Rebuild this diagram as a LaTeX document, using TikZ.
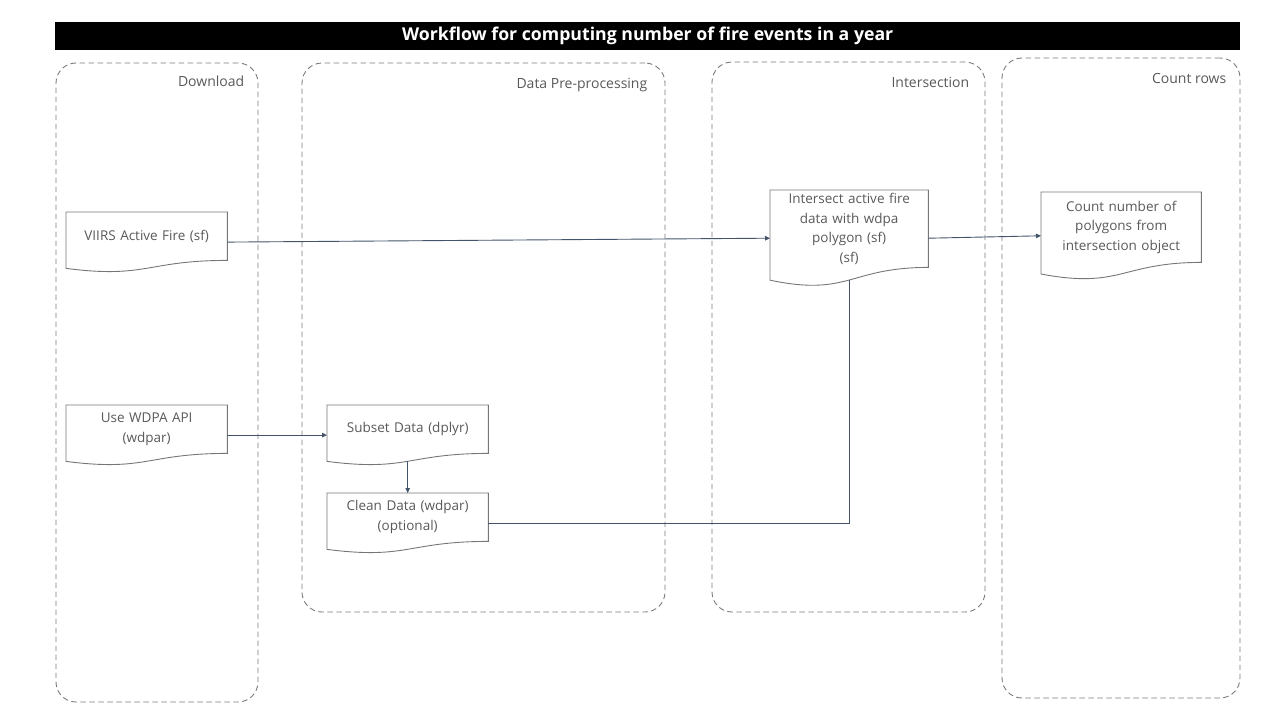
\documentclass[tikz,border=0pt]{standalone}
\usepackage{fontspec}
\setmainfont{Open Sans}
\usetikzlibrary{calc,arrows.meta,positioning}
\definecolor{lanegray}{HTML}{7A7A7A}
\definecolor{boxgray}{HTML}{767676}
\definecolor{txtgray}{HTML}{595959}
\definecolor{linkblue}{HTML}{44546A}
\begin{document}
\begin{tikzpicture}[x=1pt,y=-1pt,
  lane/.style={draw=lanegray, dash pattern=on 5.5pt off 3.5pt, rounded corners=20pt, line width=0.9pt, inner sep=0pt},
  lanelabel/.style={anchor=base east, text=txtgray, inner sep=0pt, font=\fontsize{14}{17}\selectfont},
  docbox/.style={anchor=north west, minimum width=161pt, inner sep=0pt, text width=150pt, align=center, text=txtgray, font=\fontsize{13.5}{19.5}\selectfont},
  docline/.style={draw=boxgray, line width=0.9pt},
  link/.style={draw=linkblue, line width=0.9pt},
  arr/.style={link, -{Triangle[length=5pt,width=4.5pt]}}]

  \useasboundingbox (0,0) rectangle (1280,720);

  %% title bar
  \node[fill=black, anchor=north west, minimum width=1185pt, minimum height=28pt, inner sep=0pt, text=white, font=\fontsize{17.7}{20}\selectfont\bfseries] (title) at (55,22) {Workflow for computing number of fire events in a year};

  %% lanes
  \node[lane, minimum width=202pt, minimum height=639pt] (dl) at (157,382.5) {};
  \node[lane, minimum width=363pt, minimum height=549pt] (pre) at (483.5,337.5) {};
  \node[lane, minimum width=273pt, minimum height=550pt] (isect) at (848.5,337) {};
  \node[lane, minimum width=238pt, minimum height=640pt] (cnt) at (1121,378) {};

  \node[lanelabel] (dllab) at ([xshift=-14pt,yshift=-23.5pt]dl.north east) {Download};
  \node[lanelabel] (prelab) at ([xshift=-18pt,yshift=-26pt]pre.north east) {Data Pre-processing};
  \node[lanelabel] (isectlab) at ([xshift=-16pt,yshift=-26pt]isect.north east) {Intersection};
  \node[lanelabel] (cntlab) at ([xshift=-14pt,yshift=-26pt]cnt.north east) {Count rows};

  %% steps
  \node[docbox, minimum height=48pt] (fire) at (66,212) {VIIRS Active Fire (sf)};
  \node[docbox, minimum height=48pt] (wdpa) at (66,405) {Use WDPA API\\(wdpar)};
  \node[docbox, minimum height=48pt] (subset) at (327,405) {Subset Data (dplyr)};
  \node[docbox, minimum height=48pt] (clean) at (327,493) {Clean Data (wdpar)\\(optional)};
  \node[docbox, minimum width=158pt, minimum height=77pt] (inter) at (770,190) {Intersect active fire\\data with wdpa\\polygon (sf)\\(sf)};
  \node[docbox, minimum width=160pt, minimum height=70pt] (count) at (1041,192) {Count number of\\polygons from\\intersection object};

  %% document outline, wavy bottom
  \foreach \n in {fire,wdpa,subset,clean,inter,count}
    \draw[docline] (\n.south east) -- (\n.north east) -- (\n.north west)
      -- ($(\n.north west)!1.165!(\n.south west)$)
      .. controls ($(\n.north)!1.38!(\n.south)$) and (\n.south) .. (\n.south east) -- cycle;

  %% links
  \draw[arr] ([yshift=-5.9pt]fire.east) -- ([yshift=-9.5pt]inter.west); % fire->inter
  \draw[arr] ([yshift=-9.5pt]inter.east) -- ([yshift=-8.6pt]count.west); % inter->count
  \draw[arr] ([yshift=-5.9pt]wdpa.east) -- ([yshift=-5.9pt]subset.west); % wdpa->subset
  \draw[arr] ([yshift=-7.8pt]subset.south) -- (clean.north); % subset->clean
  \draw[link] ([yshift=-5.9pt]clean.east) -| ([yshift=-12.6pt]inter.south); % clean->inter

\end{tikzpicture}
\end{document}
